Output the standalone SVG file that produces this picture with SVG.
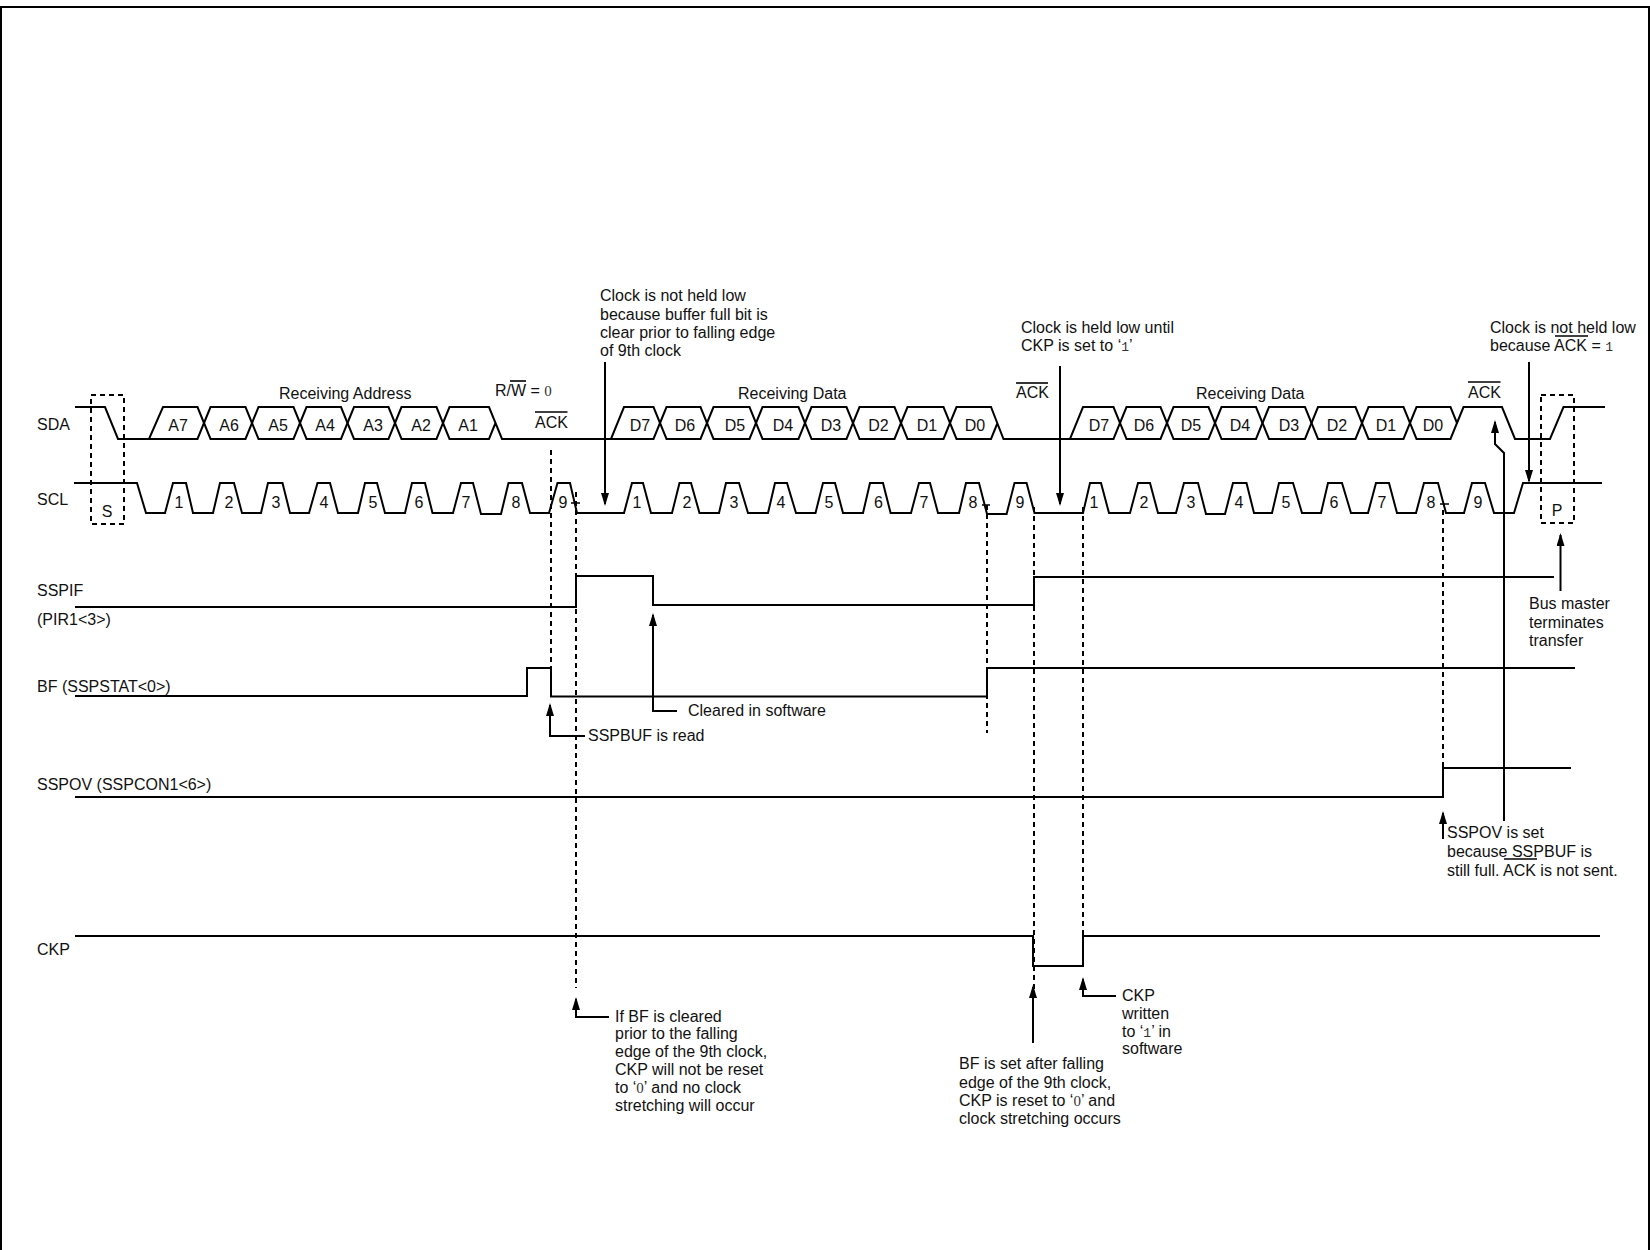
<svg xmlns="http://www.w3.org/2000/svg" width="1650" height="1250" viewBox="0 0 1650 1250">
<style>
text{font-family:"Liberation Sans",Arial,sans-serif;font-size:16px;fill:#111}
.c{text-anchor:middle}
.m{font-family:"Liberation Mono","Courier New",monospace;font-size:13px;fill:#333}
.z{font-family:"Liberation Serif","Times New Roman",serif;font-size:15px;fill:#333}
.w,.d,.a,.o,.b{fill:none;stroke:#000}
.w,.b{stroke-width:2}
.d{stroke-width:2;stroke-dasharray:5 4}
.a{stroke-width:2;marker-end:url(#h)}
.o{stroke-width:1.6}
</style>
<defs><marker id="h" markerUnits="userSpaceOnUse" markerWidth="13" markerHeight="8" refX="11" refY="4" orient="auto" viewBox="0 0 13 8"><path d="M13 4 L0 8 L0 0 Z" fill="#000"/></marker></defs>
<rect width="1650" height="1250" fill="#fff"/>
<path id="frame" class="w" d="M1 1250 V7 H1649 V1250"/>

<g id="SDA">
<text x="37" y="430">SDA</text>
<path class="b" d="M75 407 H105 L118 439 H149 L163 407 H197.500 L204 423 L197.500 439 H149"/>
<path class="b" d="M204 423 L210.500 407 H245.500 L252 423 L245.500 439 H210.500 Z"/>
<path class="b" d="M252 423 L258.500 407 H293.500 L300 423 L293.500 439 H258.500 Z"/>
<path class="b" d="M300 423 L306.500 407 H341 L347.500 423 L341 439 H306.500 Z"/>
<path class="b" d="M347.500 423 L354 407 H388.500 L395 423 L388.500 439 H354 Z"/>
<path class="b" d="M395 423 L401.500 407 H436.500 L443 423 L436.500 439 H401.500 Z"/>
<path class="b" d="M443 423 L449.500 407 H489 L502 439 H611 L624 407 H653.500 L660 423 L653.500 439 H611 M443 423 L449.500 439 H489 L495.500 423"/>
<path class="b" d="M660 423 L666.500 407 H700.500 L707 423 L700.500 439 H666.500 Z"/>
<path class="b" d="M707 423 L713.500 407 H749.500 L756 423 L749.500 439 H713.500 Z"/>
<path class="b" d="M756 423 L762.500 407 H798.500 L805 423 L798.500 439 H762.500 Z"/>
<path class="b" d="M805 423 L811.500 407 H846.500 L853 423 L846.500 439 H811.500 Z"/>
<path class="b" d="M853 423 L859.500 407 H894.500 L901 423 L894.500 439 H859.500 Z"/>
<path class="b" d="M901 423 L907.500 407 H943.500 L950 423 L943.500 439 H907.500 Z"/>
<path class="b" d="M950 423 L956.500 407 H991 L1003.500 439 H1070 L1083 407 H1113.500 L1120 423 L1113.500 439 H1070 M950 423 L956.500 439 H991 L997.500 423"/>
<path class="b" d="M1120 423 L1126.500 407 H1160.500 L1167 423 L1160.500 439 H1126.500 Z"/>
<path class="b" d="M1167 423 L1173.500 407 H1208.500 L1215 423 L1208.500 439 H1173.500 Z"/>
<path class="b" d="M1215 423 L1221.500 407 H1256 L1262.500 423 L1256 439 H1221.500 Z"/>
<path class="b" d="M1262.500 423 L1269 407 H1305 L1311.500 423 L1305 439 H1269 Z"/>
<path class="b" d="M1311.500 423 L1318 407 H1355.500 L1362 423 L1355.500 439 H1318 Z"/>
<path class="b" d="M1362 423 L1368.500 407 H1403.500 L1410 423 L1403.500 439 H1368.500 Z"/>
<path class="b" d="M1410 423 L1416.500 407 H1450.500 L1457 423 L1450.500 439 H1416.500 Z"/>
<path class="b" d="M1457 423 L1463.500 407 H1502 L1515 439 H1550 L1563.500 407 H1605"/>
<text class="c" x="178" y="431">A7</text><text class="c" x="229" y="431">A6</text><text class="c" x="278" y="431">A5</text><text class="c" x="325" y="431">A4</text><text class="c" x="373" y="431">A3</text><text class="c" x="421" y="431">A2</text><text class="c" x="468" y="431">A1</text>
<text class="c" x="640" y="431">D7</text><text class="c" x="685" y="431">D6</text><text class="c" x="735" y="431">D5</text><text class="c" x="783" y="431">D4</text><text class="c" x="831" y="431">D3</text><text class="c" x="878.500" y="431">D2</text><text class="c" x="927" y="431">D1</text><text class="c" x="975" y="431">D0</text>
<text class="c" x="1099" y="431">D7</text><text class="c" x="1144" y="431">D6</text><text class="c" x="1191" y="431">D5</text><text class="c" x="1240" y="431">D4</text><text class="c" x="1289" y="431">D3</text><text class="c" x="1337" y="431">D2</text><text class="c" x="1386" y="431">D1</text><text class="c" x="1433" y="431">D0</text>
<text x="279" y="399">Receiving Address</text>
<text x="738" y="399">Receiving Data</text>
<text x="1196" y="399">Receiving Data</text>
<text x="495" y="396">R/W = <tspan class="z">0</tspan></text><path class="o" d="M510 381 H526"/>
<text x="535" y="428">ACK</text><path class="o" d="M535 412 H567.500"/>
<text x="1016" y="398">ACK</text><path class="o" d="M1016 383 H1048"/>
<text x="1468" y="398">ACK</text><path class="o" d="M1468 382 H1500.500"/>
</g>

<g id="SCL">
<text x="37" y="505">SCL</text>
<path class="w" d="M74 483 H137 L146 513 H165 L173 483 H186 L193 513 H213 L220 483 H234 L242 513 H261 L268 483 H282.500 L290 513 H309 L317.500 483 H330 L338 513 H358 L365 483 H377 L385 513 H405 L412 483 H425 L432.500 513 H453 L461 483 H473 L481 514 H501 L508.500 483 H522 L530 513 H549 L557.500 483 H570 L577 513 H624 L632 483 H643 L651 513 H672 L679.500 483 H691 L699.500 513 H719 L726 483 H739 L748 513 H768 L775 483 H787 L796 513 H815.500 L823 483 H835 L843 513 H863 L870 483 H883 L890.600 513 H911 L919 483 H930 L938 513 H959 L966 483 H979 L987 514 H1006.600 L1014.500 483 H1026.600 L1034.500 513 H1083 L1090 483 H1101 L1109 513 H1130 L1138 483 H1150 L1158 513 H1176 L1184 483 H1198 L1206 514 H1225 L1233 483 H1246.500 L1254 513 H1272 L1279 483 H1293 L1302 513 H1321 L1328 483 H1342 L1351 513 H1368 L1376 483 H1389 L1397 513 H1416 L1424 483 H1438 L1446 513 H1464 L1472 483 H1485 L1494 513 H1514 L1523 483 H1602"/>
<path class="o" d="M571 503 H580 M982 505 H990 M1440 504 H1449"/>
<text class="c" x="179" y="508">1</text><text class="c" x="229" y="508">2</text><text class="c" x="276" y="508">3</text><text class="c" x="324" y="508">4</text><text class="c" x="373" y="508">5</text><text class="c" x="419" y="508">6</text><text class="c" x="466" y="508">7</text><text class="c" x="516" y="508">8</text><text class="c" x="563" y="508">9</text>
<text class="c" x="637" y="508">1</text><text class="c" x="687" y="508">2</text><text class="c" x="734" y="508">3</text><text class="c" x="781" y="508">4</text><text class="c" x="829" y="508">5</text><text class="c" x="878.500" y="508">6</text><text class="c" x="924" y="508">7</text><text class="c" x="973" y="508">8</text><text class="c" x="1020" y="508">9</text>
<text class="c" x="1094" y="508">1</text><text class="c" x="1144" y="508">2</text><text class="c" x="1191" y="508">3</text><text class="c" x="1239" y="508">4</text><text class="c" x="1286" y="508">5</text><text class="c" x="1334" y="508">6</text><text class="c" x="1382" y="508">7</text><text class="c" x="1431" y="508">8</text><text class="c" x="1478" y="508">9</text>
</g>

<g id="start"><rect class="d" x="91" y="395" width="33" height="129"/><text class="c" x="107" y="517">S</text></g>
<g id="stop"><rect class="d" x="1541" y="395" width="33" height="128"/><text class="c" x="1557" y="516">P</text></g>

<g id="SSPIF"><text x="37" y="596">SSPIF</text><text x="37" y="625">(PIR1&lt;3&gt;)</text>
<path class="w" d="M75 607 H576 V576 H653 V605 H1034 V577 H1554"/></g>
<g id="BF"><text x="37" y="692">BF (SSPSTAT&lt;0&gt;)</text>
<path class="w" d="M75 696 H527 V668 H551 V696.500 H987 V668 H1575"/></g>
<g id="SSPOV"><text x="37" y="790">SSPOV (SSPCON1&lt;6&gt;)</text>
<path class="w" d="M75 797 H1443 V768 H1571"/></g>
<g id="CKP"><text x="37" y="955">CKP</text>
<path class="w" d="M75 936 H1033 V966 H1083 V936 H1600"/></g>

<g id="connectors">
<path class="d" d="M551 450 V696 M576 492 V988 M987 505 V733 M1034 507 V1000 M1083 507 V966 M1443 510 V768"/>
<path class="a" d="M605 362 V504"/>
<path class="a" d="M1060 366 V504"/>
<path class="a" d="M1529 362 V481"/>
<path class="a" d="M1504 821 V453 L1495 444 V422"/>
<path class="a" d="M1560.500 591 V535"/>
<path class="a" d="M677 711 H653 V615"/>
<path class="a" d="M585 736 H550 V705"/>
<path class="a" d="M1443 839 V813"/>
<path class="a" d="M1033 1043 V987"/>
<path class="a" d="M1116 996 H1083 V979"/>
<path class="a" d="M609 1017 H576 V999"/>
</g>

<g id="note-clock-1"><text x="600" y="301">Clock is not held low</text><text x="600" y="319.500">because buffer full bit is</text><text x="600" y="338">clear prior to falling edge</text><text x="600" y="356">of 9th clock</text></g>
<g id="note-clock-2"><text x="1021" y="333">Clock is held low until</text><text x="1021" y="351">CKP is set to ‘<tspan class="m">1</tspan>’</text></g>
<g id="note-clock-3"><text x="1490" y="333">Clock is not held low</text><text x="1490" y="351">because ACK = <tspan class="m">1</tspan></text><path class="o" d="M1555 336 H1588"/></g>
<g id="note-master"><text x="1529" y="609">Bus master</text><text x="1529" y="628">terminates</text><text x="1529" y="646">transfer</text></g>
<g id="note-cleared"><text x="688" y="716">Cleared in software</text></g>
<g id="note-read"><text x="588" y="741">SSPBUF is read</text></g>
<g id="note-sspov"><text x="1447" y="838">SSPOV is set</text><text x="1447" y="857">because SSPBUF is</text><text x="1447" y="876">still full. ACK is not sent.</text><path class="o" d="M1504 859 H1537"/></g>
<g id="note-ifbf"><text x="615" y="1022">If BF is cleared</text><text x="615" y="1039">prior to the falling</text><text x="615" y="1057">edge of the 9th clock,</text><text x="615" y="1075">CKP will not be reset</text><text x="615" y="1093">to ‘<tspan class="z">0</tspan>’ and no clock</text><text x="615" y="1111">stretching will occur</text></g>
<g id="note-bfset"><text x="959" y="1069">BF is set after falling</text><text x="959" y="1088">edge of the 9th clock,</text><text x="959" y="1106">CKP is reset to ‘<tspan class="z">0</tspan>’ and</text><text x="959" y="1124">clock stretching occurs</text></g>
<g id="note-ckp"><text x="1122" y="1001">CKP</text><text x="1122" y="1019">written</text><text x="1122" y="1037">to ‘<tspan class="m">1</tspan>’ in</text><text x="1122" y="1054">software</text></g>
</svg>
